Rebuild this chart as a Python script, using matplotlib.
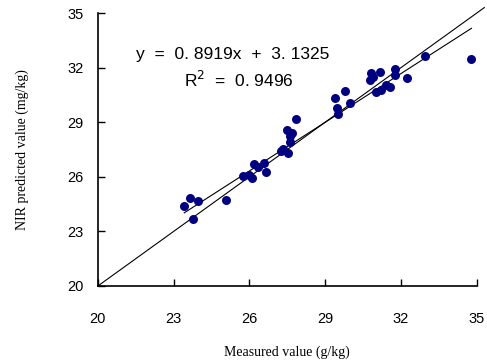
import numpy as np
import matplotlib.pyplot as plt

# measured vs NIR predicted
measured = [23.42, 23.64, 23.97, 23.75, 25.07,
            25.75, 25.99, 26.10, 26.17, 26.57, 26.65, 26.35,
            27.25, 27.33, 27.53, 27.60, 27.47, 27.62, 27.70, 27.86,
            29.38, 29.77, 29.45, 29.49, 29.97,
            30.80, 31.16, 30.76, 31.75, 31.75, 32.25, 31.42, 31.00, 31.22, 31.55, 30.90,
            32.94, 34.79]
predicted = [24.40, 24.82, 24.67, 23.70, 24.73,
             26.05, 26.10, 25.95, 26.70, 26.74, 26.26, 26.55,
             27.40, 27.51, 27.29, 27.93, 28.57, 28.25, 28.40, 29.19,
             30.31, 30.73, 29.76, 29.45, 30.04,
             31.69, 31.78, 31.32, 31.92, 31.59, 31.45, 31.04, 30.68, 30.77, 30.95, 31.50,
             32.64, 32.46]
slope, intercept = 0.8919, 3.1325
ticks = [20, 23, 26, 29, 32, 35]

fig = plt.figure(figsize=(4.87, 3.62), dpi=100)
ax = fig.add_axes([0.201, 0.21, 0.778, 0.754])

ax.scatter(measured, predicted, s=42, color="#000080", zorder=3, linewidths=0)

# 1:1 line
ax.plot([20, 35.3], [20, 35.3], color="black", lw=0.8, clip_on=False)
# regression line
xr = np.array([min(measured), max(measured)])
ax.plot(xr, slope * xr + intercept, color="black", lw=0.8)

ax.set_xlim(20, 35)
ax.set_ylim(20, 35)
ax.set_xticks(ticks)
ax.set_yticks(ticks)
ax.tick_params(direction="in", length=5, width=1, labelsize=10.5)
ax.tick_params(axis="x", pad=19)
ax.tick_params(axis="y", pad=10)
for lab in ax.get_xticklabels() + ax.get_yticklabels():
    lab.set_family("Liberation Sans")
for s in ["top", "right"]:
    ax.spines[s].set_visible(False)
for s in ["left", "bottom"]:
    ax.spines[s].set_linewidth(1.2)

ax.set_xlabel("Measured value (g/kg)", family="Liberation Serif", fontsize=10, labelpad=14)
ax.set_ylabel("NIR predicted value (mg/kg)", family="Liberation Serif", fontsize=10, labelpad=28)

ax.text(0.1, 0.83, "y  =  0. 8919x  +  3. 1325", transform=ax.transAxes,
        family="Liberation Sans", fontsize=12.5)
ax.text(0.228, 0.73, "R$^2$  =  0. 9496", transform=ax.transAxes,
        family="Liberation Sans", fontsize=12.5)

fig.savefig("out.png", dpi=100)
